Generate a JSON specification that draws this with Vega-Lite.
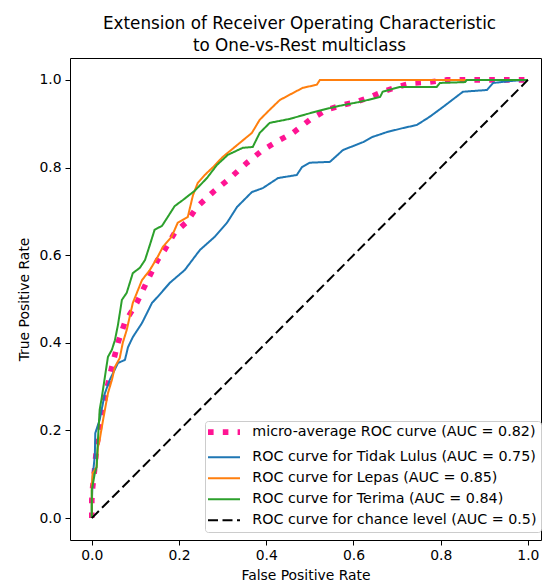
{
  "$schema": "https://vega.github.io/schema/vega-lite/v6.json",
  "width": 471,
  "height": 482,
  "autosize": {"type": "none"},
  "padding": {"left": 70, "top": 58, "right": 1, "bottom": 44},
  "title": {
    "text": ["Extension of Receiver Operating Characteristic", "to One-vs-Rest multiclass"],
    "fontSize": 16.8, "fontWeight": "normal", "font": "DejaVu Sans", "color": "#000",
    "anchor": "middle", "offset": 3, "lineHeight": 22, "dx": -6
  },
  "config": {
    "font": "DejaVu Sans",
    "view": {"stroke": "#000", "strokeWidth": 1},
    "axis": {
      "domain": false, "grid": false, "tickColor": "#000", "tickSize": 5, "tickWidth": 1,
      "labelFontSize": 13.9, "labelColor": "#000", "labelFont": "DejaVu Sans",
      "titleFontSize": 13.9, "titleFontWeight": "normal", "titleColor": "#000", "titleFont": "DejaVu Sans"
    },
    "legend": {
      "labelFontSize": 14.3, "labelFont": "DejaVu Sans", "labelColor": "#000", "labelLimit": 500
    }
  },
  "data": {"values": [
    {"s":"micro","x":0,"y":0},{"s":"micro","x":0,"y":0.041},{"s":"micro","x":0.002,"y":0.071},{"s":"micro","x":0.007,"y":0.116},{"s":"micro","x":0.011,"y":0.162},{"s":"micro","x":0.023,"y":0.240},{"s":"micro","x":0.034,"y":0.292},{"s":"micro","x":0.046,"y":0.345},{"s":"micro","x":0.060,"y":0.400},{"s":"micro","x":0.076,"y":0.447},{"s":"micro","x":0.103,"y":0.491},{"s":"micro","x":0.128,"y":0.543},{"s":"micro","x":0.151,"y":0.589},{"s":"micro","x":0.167,"y":0.612},{"s":"micro","x":0.190,"y":0.651},{"s":"micro","x":0.218,"y":0.676},{"s":"micro","x":0.241,"y":0.710},{"s":"micro","x":0.278,"y":0.744},{"s":"micro","x":0.317,"y":0.776},{"s":"micro","x":0.356,"y":0.811},{"s":"micro","x":0.392,"y":0.840},{"s":"micro","x":0.431,"y":0.863},{"s":"micro","x":0.461,"y":0.879},{"s":"micro","x":0.500,"y":0.909},{"s":"micro","x":0.539,"y":0.932},{"s":"micro","x":0.576,"y":0.943},{"s":"micro","x":0.608,"y":0.950},{"s":"micro","x":0.638,"y":0.961},{"s":"micro","x":0.667,"y":0.973},{"s":"micro","x":0.700,"y":0.984},{"s":"micro","x":0.736,"y":0.993},{"s":"micro","x":0.775,"y":0.995},{"s":"micro","x":0.814,"y":1.0},{"s":"micro","x":1,"y":1},
    {"s":"tl","x":0,"y":0},{"s":"tl","x":0,"y":0.03},{"s":"tl","x":0.002,"y":0.094},{"s":"tl","x":0.007,"y":0.144},{"s":"tl","x":0.008,"y":0.194},{"s":"tl","x":0.018,"y":0.224},{"s":"tl","x":0.030,"y":0.285},{"s":"tl","x":0.041,"y":0.315},{"s":"tl","x":0.060,"y":0.354},{"s":"tl","x":0.076,"y":0.361},{"s":"tl","x":0.083,"y":0.390},{"s":"tl","x":0.094,"y":0.413},{"s":"tl","x":0.115,"y":0.445},{"s":"tl","x":0.138,"y":0.491},{"s":"tl","x":0.151,"y":0.505},{"s":"tl","x":0.179,"y":0.537},{"s":"tl","x":0.213,"y":0.566},{"s":"tl","x":0.248,"y":0.612},{"s":"tl","x":0.282,"y":0.642},{"s":"tl","x":0.310,"y":0.674},{"s":"tl","x":0.333,"y":0.710},{"s":"tl","x":0.367,"y":0.744},{"s":"tl","x":0.392,"y":0.753},{"s":"tl","x":0.427,"y":0.776},{"s":"tl","x":0.470,"y":0.783},{"s":"tl","x":0.482,"y":0.801},{"s":"tl","x":0.500,"y":0.811},{"s":"tl","x":0.546,"y":0.813},{"s":"tl","x":0.576,"y":0.840},{"s":"tl","x":0.622,"y":0.858},{"s":"tl","x":0.644,"y":0.870},{"s":"tl","x":0.677,"y":0.881},{"s":"tl","x":0.713,"y":0.890},{"s":"tl","x":0.745,"y":0.897},{"s":"tl","x":0.775,"y":0.916},{"s":"tl","x":0.805,"y":0.938},{"s":"tl","x":0.826,"y":0.954},{"s":"tl","x":0.851,"y":0.973},{"s":"tl","x":0.906,"y":0.977},{"s":"tl","x":0.920,"y":0.993},{"s":"tl","x":0.966,"y":0.998},{"s":"tl","x":1,"y":1},
    {"s":"lp","x":0,"y":0},{"s":"lp","x":0,"y":0.071},{"s":"lp","x":0.002,"y":0.103},{"s":"lp","x":0.011,"y":0.116},{"s":"lp","x":0.014,"y":0.162},{"s":"lp","x":0.018,"y":0.178},{"s":"lp","x":0.023,"y":0.208},{"s":"lp","x":0.030,"y":0.247},{"s":"lp","x":0.037,"y":0.285},{"s":"lp","x":0.046,"y":0.315},{"s":"lp","x":0.053,"y":0.345},{"s":"lp","x":0.064,"y":0.365},{"s":"lp","x":0.071,"y":0.400},{"s":"lp","x":0.080,"y":0.429},{"s":"lp","x":0.094,"y":0.491},{"s":"lp","x":0.115,"y":0.543},{"s":"lp","x":0.133,"y":0.566},{"s":"lp","x":0.151,"y":0.596},{"s":"lp","x":0.163,"y":0.619},{"s":"lp","x":0.183,"y":0.642},{"s":"lp","x":0.197,"y":0.674},{"s":"lp","x":0.220,"y":0.687},{"s":"lp","x":0.232,"y":0.737},{"s":"lp","x":0.243,"y":0.765},{"s":"lp","x":0.259,"y":0.783},{"s":"lp","x":0.278,"y":0.801},{"s":"lp","x":0.300,"y":0.824},{"s":"lp","x":0.339,"y":0.856},{"s":"lp","x":0.367,"y":0.879},{"s":"lp","x":0.385,"y":0.909},{"s":"lp","x":0.408,"y":0.932},{"s":"lp","x":0.431,"y":0.954},{"s":"lp","x":0.461,"y":0.970},{"s":"lp","x":0.484,"y":0.982},{"s":"lp","x":0.516,"y":0.989},{"s":"lp","x":0.523,"y":1.0},{"s":"lp","x":1,"y":1},
    {"s":"tr","x":0,"y":0},{"s":"tr","x":0,"y":0.064},{"s":"tr","x":0.007,"y":0.103},{"s":"tr","x":0.011,"y":0.116},{"s":"tr","x":0.014,"y":0.178},{"s":"tr","x":0.018,"y":0.247},{"s":"tr","x":0.023,"y":0.276},{"s":"tr","x":0.030,"y":0.322},{"s":"tr","x":0.037,"y":0.368},{"s":"tr","x":0.046,"y":0.384},{"s":"tr","x":0.053,"y":0.406},{"s":"tr","x":0.060,"y":0.441},{"s":"tr","x":0.069,"y":0.498},{"s":"tr","x":0.080,"y":0.514},{"s":"tr","x":0.094,"y":0.559},{"s":"tr","x":0.110,"y":0.571},{"s":"tr","x":0.122,"y":0.589},{"s":"tr","x":0.133,"y":0.623},{"s":"tr","x":0.144,"y":0.658},{"s":"tr","x":0.161,"y":0.667},{"s":"tr","x":0.174,"y":0.687},{"s":"tr","x":0.190,"y":0.712},{"s":"tr","x":0.209,"y":0.726},{"s":"tr","x":0.236,"y":0.747},{"s":"tr","x":0.264,"y":0.776},{"s":"tr","x":0.287,"y":0.806},{"s":"tr","x":0.312,"y":0.829},{"s":"tr","x":0.346,"y":0.845},{"s":"tr","x":0.369,"y":0.847},{"s":"tr","x":0.385,"y":0.879},{"s":"tr","x":0.408,"y":0.902},{"s":"tr","x":0.454,"y":0.911},{"s":"tr","x":0.493,"y":0.922},{"s":"tr","x":0.530,"y":0.932},{"s":"tr","x":0.569,"y":0.941},{"s":"tr","x":0.615,"y":0.950},{"s":"tr","x":0.661,"y":0.961},{"s":"tr","x":0.667,"y":0.973},{"s":"tr","x":0.706,"y":0.984},{"s":"tr","x":0.791,"y":0.984},{"s":"tr","x":0.798,"y":0.993},{"s":"tr","x":0.856,"y":0.995},{"s":"tr","x":0.860,"y":1.0},{"s":"tr","x":1,"y":1},
    {"s":"chance","x":0,"y":0},{"s":"chance","x":1,"y":1}
  ]},
  "mark": {"type": "line", "strokeCap": "butt"},
  "encoding": {
    "x": {
      "field": "x", "type": "quantitative",
      "scale": {"domain": [-0.05, 1.03], "nice": false, "zero": false},
      "axis": {"title": "False Positive Rate", "values": [0, 0.2, 0.4, 0.6, 0.8, 1.0], "format": ".1f", "labelPadding": 3, "titlePadding": 7, "labelFlush": false}
    },
    "y": {
      "field": "y", "type": "quantitative",
      "scale": {"domain": [-0.05, 1.05], "nice": false, "zero": false},
      "axis": {"title": "True Positive Rate", "values": [0, 0.2, 0.4, 0.6, 0.8, 1.0], "format": ".1f", "labelPadding": 4, "titlePadding": 7}
    },
    "color": {
      "field": "s", "type": "nominal",
      "scale": {"domain": ["micro", "tl", "lp", "tr", "chance"], "range": ["#ff1493", "#1f77b4", "#ff7f0e", "#2ca02c", "#000000"]},
      "legend": {
        "title": null, "orient": "none", "legendX": 135, "legendY": 363,
        "symbolType": "stroke", "symbolSize": 400,
        "strokeColor": "#cccccc", "fillColor": "rgba(255,255,255,0.8)", "cornerRadius": 3, "padding": 4,
        "labelOffset": 29, "rowPadding": 6,
        "labelExpr": "{'micro':'micro-average ROC curve (AUC = 0.82)','tl':'ROC curve for Tidak Lulus (AUC = 0.75)','lp':'ROC curve for Lepas (AUC = 0.85)','tr':'ROC curve for Terima (AUC = 0.84)','chance':'ROC curve for chance level (AUC = 0.5)'}[datum.label]",
        "encode": {
          "symbols": {"update": {
            "size": {"value": 1024},
            "x": {"value": 15},
            "strokeWidth": {"signal": "datum.value === 'micro' ? 5.6 : 2"}
          }}
        }
      }
    },
    "strokeDash": {
      "field": "s", "type": "nominal",
      "scale": {"domain": ["micro", "tl", "lp", "tr", "chance"], "range": [[5.6, 9.2], [1, 0], [1, 0], [1, 0], [10, 4.5]]}
    },
    "strokeWidth": {
      "condition": {"test": "datum.s === 'micro'", "value": 5.6},
      "value": 2
    }
  }
}
